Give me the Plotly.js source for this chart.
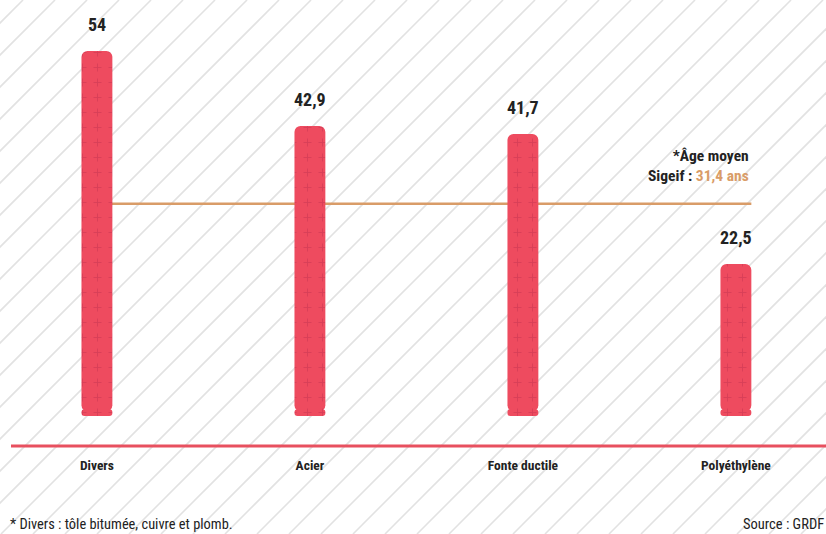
<!DOCTYPE html>
<html><head><meta charset="utf-8">
<script src="https://cdn.plot.ly/plotly-3.0.1.min.js"></script>
<style>html,body{margin:0;padding:0;background:#fff;overflow:hidden}#chart{width:826px;height:534px}</style>
</head><body><div id="chart"></div>
<script>
// ---- data ----
const categories = ["Divers", "Acier", "Fonte ductile", "Polyéthylène"];
const ages = [54, 42.9, 41.7, 22.5];
const ageLabels = ["54", "42,9", "41,7", "22,5"];
const averageAge = 31.4;
const averageTitle = "*Âge moyen";
const averagePrefix = "Sigeif : ";
const averageLabel = "31,4 ans";
const footnote = "* Divers : tôle bitumée, cuivre et plomb.";
const source = "Source : GRDF";

// ---- style ----
const FONT = '"Roboto Condensed", "Open Sans Condensed", "DejaVu Sans Condensed", sans-serif';
const RED = '#ee4b5f', PLUS = '#d83f57', ORANGE = '#d99c68', DARK = '#222222', HATCH = '#e2e2e2';
const W = 826, H = 534, MB = 88, PH = H - MB;
const xIdx = categories.map((c, i) => i);
const barWidth = 0.145;
const capH = 1.0, overlap = 0.3;
const yMin = -4.44, yMax = 61.54;

const pattern = {shape: '+', size: 15, solidity: 0.12, fgcolor: PLUS, bgcolor: RED, fgopacity: 1};
const bodyTrace = {
  type: 'bar', x: xIdx, y: ages.map(v => v - capH + overlap), base: capH - overlap,
  width: barWidth, hoverinfo: 'skip',
  marker: {color: RED, cornerradius: 6, line: {width: 0}, pattern: pattern}
};
const capTrace = {
  type: 'bar', x: xIdx, y: xIdx.map(() => -capH), base: capH,
  width: barWidth, hoverinfo: 'skip',
  marker: {color: RED, cornerradius: 6, line: {width: 0}, pattern: pattern}
};

// background hatch (decoration)
const shapes = [];
for (let c = 23; c < W + H + 40; c += 32) {
  shapes.push({type: 'line', xref: 'paper', yref: 'paper', layer: 'below',
    x0: c / W, y0: 1, x1: (c - H) / W, y1: (PH - H) / PH,
    line: {color: HATCH, width: 1.6}});
}
// average line
shapes.push({type: 'line', xref: 'x', yref: 'y', layer: 'below',
  x0: xIdx[0], x1: xIdx[xIdx.length - 1] + barWidth / 2, y0: averageAge, y1: averageAge,
  line: {color: ORANGE, width: 2.5}});
// baseline
shapes.push({type: 'line', xref: 'paper', yref: 'paper', layer: 'below',
  x0: 11 / W, x1: 1, y0: 0, y1: 0, line: {color: '#e8505f', width: 3}});

const annotations = ages.map((v, i) => ({
  x: xIdx[i], y: v, xref: 'x', yref: 'y', text: ageLabels[i], showarrow: false,
  yanchor: 'bottom', yshift: 14,
  font: {family: FONT, size: 18, color: DARK, weight: 'bold'}
}));
annotations.push({
  x: xIdx[xIdx.length - 1] + barWidth / 2, xref: 'x', xanchor: 'right',
  y: (PH - 166) / PH, yref: 'paper', yanchor: 'middle', align: 'right', showarrow: false,
  text: averageTitle + '<br>' + averagePrefix + '<span style="color:' + ORANGE + '">' + averageLabel + '</span>',
  font: {family: FONT, size: 15.5, color: DARK, weight: 'bold'}
});
annotations.push({
  x: 8 / W, xref: 'paper', xanchor: 'left', y: (PH - 524) / PH, yref: 'paper', yanchor: 'middle',
  text: footnote, showarrow: false, font: {family: FONT, size: 14.4, color: DARK}
});
annotations.push({
  x: 1, xref: 'paper', xanchor: 'right', y: (PH - 524) / PH, yref: 'paper', yanchor: 'middle',
  text: source, showarrow: false, font: {family: FONT, size: 14.5, color: DARK}
});

const layout = {
  width: W, height: H, margin: {l: 0, r: 0, t: 0, b: MB, pad: 0},
  paper_bgcolor: '#ffffff', plot_bgcolor: 'rgba(0,0,0,0)',
  barmode: 'overlay', showlegend: false,
  xaxis: {range: [-0.455, 3.423], tickvals: xIdx, ticktext: categories, showgrid: false,
    zeroline: false, showline: false, ticks: 'outside', ticklen: 7, tickcolor: 'rgba(0,0,0,0)',
    tickfont: {family: FONT, size: 13.5, color: DARK, weight: 'bold'}, fixedrange: true},
  yaxis: {range: [yMin, yMax], visible: false, fixedrange: true},
  shapes: shapes, annotations: annotations
};

Plotly.newPlot('chart', [bodyTrace, capTrace], layout, {staticPlot: true, displayModeBar: false}).then(() => {
  // turn the full-tile cross pattern into small isolated plus signs
  document.querySelectorAll('pattern path').forEach(p => {
    p.setAttribute('d', 'M7.5,3.5V11.5M3.5,7.5H11.5');
  });
});
</script></body></html>
